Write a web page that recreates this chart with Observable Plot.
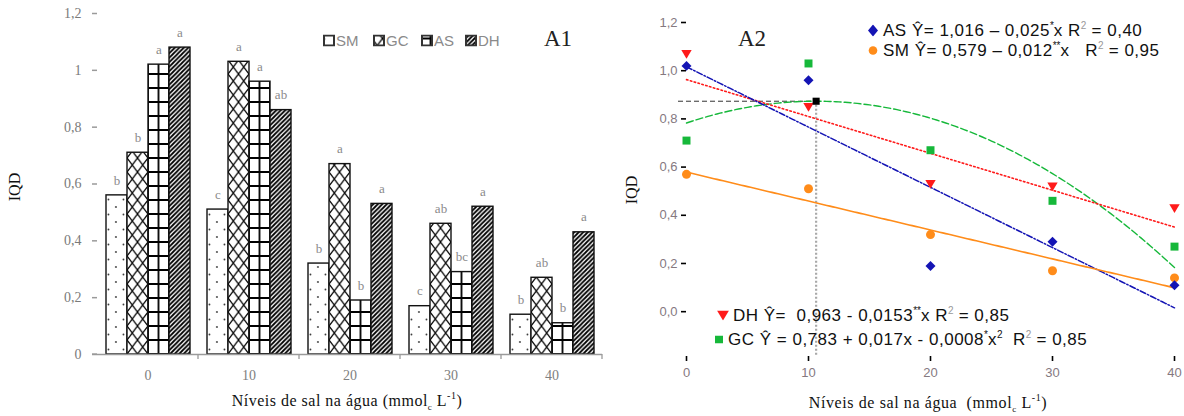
<!DOCTYPE html>
<html><head><meta charset="utf-8">
<script src="https://cdn.jsdelivr.net/npm/d3@7"></script>
<script src="https://cdn.jsdelivr.net/npm/@observablehq/plot@0.6"></script>
<style>
body{margin:0;background:#fff;}
#wrap{position:relative;width:1184px;height:416px;overflow:hidden;background:#fff;}
#a1{position:absolute;left:0;top:0;}
#a2{position:absolute;left:608px;top:0;}
.t{position:absolute;white-space:nowrap;line-height:1;}
.c{transform:translate(-50%,-50%);}
.r{transform:translate(-50%,-50%) rotate(-90deg);}
.l{transform:translateY(-50%);}
.serif{font-family:"Liberation Serif","DejaVu Serif",serif;}
.eq{font-family:"Liberation Sans",Arial,sans-serif;font-size:17px;letter-spacing:0.5px;color:#111;display:flex;align-items:center;}
.eq sup{font-size:10px;vertical-align:baseline;position:relative;top:-7px;line-height:0;letter-spacing:0;}
.eq sup.s{color:#999;}
.lg{font-family:"Liberation Sans",Arial,sans-serif;font-size:15px;color:#8a8a8a;display:flex;align-items:center;}
.lg svg{margin-right:1px;}
sub{font-size:9px;vertical-align:baseline;position:relative;top:4px;line-height:0;}
.tt sup{font-size:10px;vertical-align:baseline;position:relative;top:-7px;line-height:0;}
</style></head><body>
<svg width="0" height="0" style="position:absolute">
<defs>
 <pattern id="pat-SM" patternUnits="userSpaceOnUse" width="15" height="15">
   <rect width="15" height="15" fill="white"/>
   <circle cx="3" cy="3" r="0.9" fill="#333"/>
   <circle cx="10.5" cy="10.5" r="0.9" fill="#333"/>
 </pattern>
 <pattern id="pat-GC" patternUnits="userSpaceOnUse" width="10.75" height="14">
   <rect width="10.75" height="14" fill="white"/>
   <path id="gcpath" d="M0,0L10.75,14M10.75,0L0,14" stroke="black" stroke-width="1.3"/>
 </pattern>
 <pattern id="pat-AS" patternUnits="userSpaceOnUse" width="10.75" height="14">
   <rect width="10.75" height="14" fill="white"/>
   <path id="aspath" d="M0,0V14M10.75,0V14M0,0H10.75M0,14H10.75" stroke="black" stroke-width="1.8"/>
 </pattern>
 <pattern id="pat-DH" patternUnits="userSpaceOnUse" width="4.5" height="4.5">
   <rect width="4.5" height="4.5" fill="white"/>
   <path d="M-1,1L1,-1M0,4.5L4.5,0M3.5,5.5L5.5,3.5" stroke="black" stroke-width="1.8"/>
 </pattern>
</defs></svg>
<div id="wrap">
  <div id="a1"></div>
  <div id="a2"></div>
</div>
<script>
// ---------- Data: panel A1 (bars) ----------
const levels = [0, 10, 20, 30, 40];
const seriesNames = ["SM", "GC", "AS", "DH"];
const valSM = [0.56, 0.51, 0.32, 0.17, 0.14];
const valGC = [0.71, 1.03, 0.67, 0.46, 0.27];
const valAS = [1.02, 0.96, 0.19, 0.29, 0.11];
const valDH = [1.08, 0.86, 0.53, 0.52, 0.43];
const letSM = ["b", "c", "b", "c", "b"];
const letGC = ["b", "a", "a", "ab", "ab"];
const letAS = ["a", "a", "b", "bc", "b"];
const letDH = ["a", "ab", "a", "a", "a"];
const yTicksA1 = [0, 0.2, 0.4, 0.6, 0.8, 1, 1.2];

// ---------- Data: panel A2 (points + fitted models) ----------
const ptsAS = [1.02, 0.96, 0.19, 0.29, 0.11];
const ptsSM = [0.57, 0.51, 0.32, 0.17, 0.14];
const ptsDH = [1.07, 0.85, 0.53, 0.52, 0.43];
const ptsGC = [0.71, 1.03, 0.67, 0.46, 0.27];
const fitAS = [1.016, -0.025];
const fitSM = [0.579, -0.012];
const fitDH = [0.963, -0.0153];
const fitGC = [0.783, 0.017, -0.0008];
const yTicksA2 = [0, 0.2, 0.4, 0.6, 0.8, 1.0, 1.2];
const yMinA2 = -0.186;

const comma = d => String(d).replace(".", ",");
const comma1 = d => d.toFixed(1).replace(".", ",");

// ---------- Panel A1 ----------
const vals = {SM: valSM, GC: valGC, AS: valAS, DH: valDH};
const lets = {SM: letSM, GC: letGC, AS: letAS, DH: letDH};
const bars = seriesNames.flatMap(s => levels.map((l, j) => ({level: l, s, v: vals[s][j], letter: lets[s][j]})));

const p1 = Plot.plot({
  width: 608, height: 416,
  marginLeft: 95, marginRight: 4, marginTop: 13, marginBottom: 62,
  style: {background: "transparent", fontFamily: "Liberation Serif"},
  fx: {domain: levels, paddingInner: 0, paddingOuter: 0},
  x: {domain: seriesNames, paddingInner: 0, paddingOuter: 0.37, axis: null},
  y: {domain: [0, 1.2]},
  marks: [
    ...seriesNames.map(s => Plot.barY(bars.filter(d => d.s === s), {
      fx: "level", x: "s", y: "v", fill: `url(#pat-${s})`, stroke: "#111", strokeWidth: 1.4
    })),
    Plot.text(bars, {fx: "level", x: "s", y: "v", text: "letter", dy: -15, fill: "#8a8a8a", fontSize: 13, fontFamily: "Liberation Serif"}),
    Plot.ruleY([0], {stroke: "#9a9a9a", strokeWidth: 1.5}),
    Plot.axisY({ticks: yTicksA1, tickFormat: comma, tickSize: 5, tickPadding: 11, line: true, stroke: "#9a9a9a", strokeWidth: 1.5,
      fill: "#7a7a7a", fontSize: 14, fontFamily: "Liberation Serif", label: null}),
    Plot.axisFx({anchor: "bottom", tickSize: 0, tickPadding: 16, fill: "#808080", fontSize: 14, fontFamily: "Liberation Serif", label: null})
  ]
});
document.getElementById("a1").appendChild(p1);

// align the AS grid / GC lattice / dots with their bars, using the plot's scales
try {
  const xs = p1.scale("x"), ys = p1.scale("y"), fxs = p1.scale("fx");
  const bw = xs.bandwidth, y0 = ys.apply(0);
  const setPat = (id, x, w) => {
    const p = document.getElementById(id);
    p.setAttribute("x", x); p.setAttribute("y", y0);
    if (w) p.setAttribute("width", w);
  };
  const h = bw / 2;
  setPat("pat-AS", xs.apply("AS"), h);
  document.getElementById("pat-AS").querySelector("rect").setAttribute("width", h);
  document.getElementById("aspath").setAttribute("d", `M0,0V14M${h},0V14M0,0H${h}M0,14H${h}`);
  setPat("pat-GC", xs.apply("GC"), h);
  document.getElementById("pat-GC").querySelector("rect").setAttribute("width", h);
  document.getElementById("gcpath").setAttribute("d", `M0,0L${h},14M${h},0L0,14`);
  setPat("pat-SM", xs.apply("SM") + bw * 0.33);
  const svg = d3.select(p1);
  const g = svg.append("g").attr("stroke", "#9a9a9a").attr("stroke-width", 1.3);
  levels.forEach(l => {
    const a = fxs.apply(l);
    g.append("line").attr("x1", a + fxs.bandwidth).attr("x2", a + fxs.bandwidth).attr("y1", y0).attr("y2", y0 + 5);
  });
  g.append("line").attr("x1", fxs.apply(levels[0]) - 5).attr("x2", fxs.apply(levels[0])).attr("y1", y0).attr("y2", y0);
} catch (e) { console.log(e); }

// ---------- Panel A2 ----------
const poly = (c, x) => c.reduce((s, a, i) => s + a * Math.pow(x, i), 0);
const xGrid = d3.range(0, 40.001, 0.25);
const xOpt = -fitGC[1] / (2 * fitGC[2]);
const yOpt = poly(fitGC, xOpt);
const pts = (arr) => levels.map((l, j) => ({x: l, y: arr[j]}));
const triDown = {draw(ctx, size) { const r = Math.sqrt(size / Math.PI) * 1.15; ctx.moveTo(-r, -0.75 * r); ctx.lineTo(r, -0.75 * r); ctx.lineTo(0, r * 0.95); ctx.closePath(); }};

const cAS = "#1414b4", cSM = "#ff8c1a", cDH = "#ff1a1a", cGC = "#16b83a";
const p2 = Plot.plot({
  width: 576, height: 416,
  marginLeft: 78, marginRight: 10, marginTop: 22, marginBottom: 60,
  style: {background: "transparent", fontFamily: "Liberation Sans"},
  x: {domain: [0, 40]},
  y: {domain: [yMinA2, 1.2]},
  marks: [
    Plot.ruleX([xOpt], {y1: yOpt, y2: yMinA2, stroke: "#a8a8a8", strokeWidth: 2.2, strokeDasharray: "2,2"}),
    Plot.ruleY([yOpt], {x1: 0, x2: xOpt, stroke: "#333", strokeWidth: 1, strokeDasharray: "5,3", insetLeft: -8}),
    Plot.line(xGrid, {x: d => d, y: d => poly(fitGC, d), stroke: cGC, strokeWidth: 1.4, strokeDasharray: "7,3"}),
    Plot.line(xGrid, {x: d => d, y: d => poly(fitDH, d), stroke: cDH, strokeWidth: 1.6, strokeDasharray: "1.5,2.5"}),
    Plot.line(xGrid, {x: d => d, y: d => poly(fitAS, d), stroke: cAS, strokeWidth: 1.5, strokeDasharray: "6,2,1.5,2"}),
    Plot.line(xGrid, {x: d => d, y: d => poly(fitSM, d), stroke: cSM, strokeWidth: 1.6}),
    Plot.axisY({ticks: yTicksA2, tickFormat: comma1, tickSize: 5, tickPadding: 4, line: true, stroke: "#000", strokeWidth: 1.6,
      fill: "#85797f", fontSize: 13, label: null}),
    Plot.axisX({ticks: levels, tickSize: 5, tickPadding: 6, line: true, stroke: "#000", strokeWidth: 1.6,
      fill: "#85797f", fontSize: 13, label: null}),
    Plot.dot(pts(ptsGC), {x: "x", y: "y", symbol: "square", fill: cGC, r: 4.5}),
    Plot.dot(pts(ptsSM), {x: "x", y: "y", symbol: "circle", fill: cSM, r: 4.5}),
    Plot.dot(pts(ptsAS), {x: "x", y: "y", symbol: "diamond2", fill: cAS, r: 4.5}),
    Plot.dot(pts(ptsDH), {x: "x", y: "y", symbol: triDown, fill: cDH, r: 4.5}),
    Plot.dot([{x: xOpt, y: yOpt}], {x: "x", y: "y", symbol: "square", fill: "#000", r: 4})
  ]
});
document.getElementById("a2").appendChild(p2);

// ---------- Text overlays (titles, legends, equations) ----------
const wrap = document.getElementById("wrap");
function add(html, cls, left, top, style) {
  const d = document.createElement("div");
  d.className = "t " + cls;
  d.style.left = left + "px"; d.style.top = top + "px";
  if (style) d.style.cssText += style;
  d.innerHTML = html;
  wrap.appendChild(d);
  return d;
}
const box = s => `<svg width="12" height="12"><rect x="1" y="1" width="10" height="10" fill="url(#pat-${s})" stroke="#333" stroke-width="2"/></svg>`;
// A1
add("IQD", "serif r", 15, 187, "font-size:16px;color:#111;");
add("Níveis de sal na água (mmol<sub>c</sub> L<sup>-1</sup>)", "serif c tt", 347, 401, "font-size:16px;letter-spacing:0.5px;color:#111;");
add("A1", "serif c", 558, 38, "font-size:23px;color:#222;");
const lgX = [323, 373, 421, 465];
seriesNames.forEach((s, i) => add(box(s) + `<span>${s}</span>`, "lg l", lgX[i], 40));
// A2
add("IQD", "serif r", 632, 190, "font-size:16px;color:#111;");
add("Níveis de sal na água&nbsp; (mmol<sub>c</sub> L<sup>-1</sup>)", "serif c tt", 928, 403, "font-size:16px;letter-spacing:0.6px;color:#111;");
add("A2", "serif c", 752, 38, "font-size:23px;color:#222;");
const mk = {
  AS: `<svg width="10" height="12" style="margin-right:5px"><path d="M5,0L10,6L5,12L0,6Z" fill="${cAS}"/></svg>`,
  SM: `<svg width="10" height="10" style="margin-right:5px"><circle cx="5" cy="5" r="4.3" fill="${cSM}"/></svg>`,
  DH: `<svg width="12" height="10" style="margin-right:4px"><path d="M0,0L12,0L6,10Z" fill="${cDH}"/></svg>`,
  GC: `<svg width="8" height="8" style="margin-right:5px"><rect width="8" height="8" fill="${cGC}"/></svg>`
};
add(mk.AS + "<span>AS Ŷ= 1,016 – 0,025<sup>*</sup>x R<sup class='s'>2</sup> = 0,40</span>", "eq l", 868, 30);
add(mk.SM + "<span>SM Ŷ= 0,579 – 0,012<sup>**</sup>x&nbsp;&nbsp; R<sup class='s'>2</sup> = 0,95</span>", "eq l", 868, 50);
add(mk.DH + "<span>DH Ŷ=&nbsp; 0,963 - 0,0153<sup>**</sup>x R<sup class='s'>2</sup> = 0,85</span>", "eq l", 717, 315);
add(mk.GC + "<span>GC Ŷ = 0,783 + 0,017x - 0,0008<sup>*</sup>x<sup>2</sup>&nbsp; R<sup class='s'>2</sup> = 0,85</span>", "eq l", 715, 339);
</script>
</body></html>
